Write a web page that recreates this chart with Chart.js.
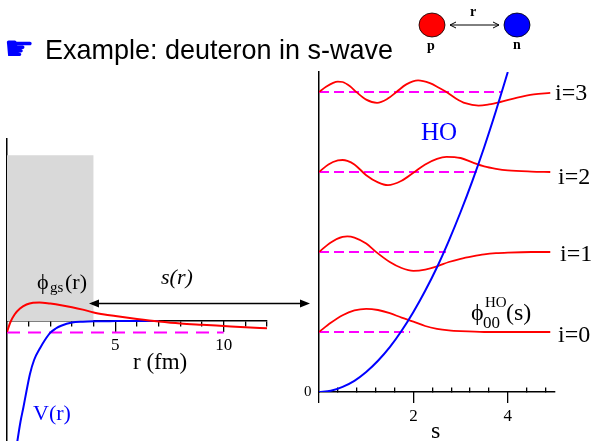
<!DOCTYPE html>
<html>
<head>
<meta charset="utf-8">
<script src="https://cdn.jsdelivr.net/npm/chart.js@4.4.1/dist/chart.umd.min.js"></script>
<style>
  body { margin: 0; background: #fff; }
  #wrap { position: relative; width: 594px; height: 441px; overflow: hidden; }
  canvas { position: absolute; }
  svg { position: absolute; left: 0; top: 0; }
  .t { position: absolute; white-space: nowrap; line-height: 1; font-family: "Liberation Serif", "DejaVu Serif", serif; color: #000; }
</style>
</head>
<body>
<div id="wrap">
  <canvas id="left" width="300" height="311" style="left:0;top:130px"></canvas>
  <canvas id="right" width="294" height="381" style="left:300px;top:60px"></canvas>
  <svg width="594" height="441">
    <ellipse cx="432" cy="25" rx="13" ry="12" fill="#ff0000" stroke="#000" stroke-width="0.8"/>
    <ellipse cx="517" cy="25" rx="13" ry="12" fill="#0000ff" stroke="#000" stroke-width="0.8"/>
    <line x1="450" y1="25" x2="499" y2="25" stroke="#000" stroke-width="1"/>
    <polyline points="456,22 450,25 456,28" fill="none" stroke="#000" stroke-width="1"/>
    <polyline points="493,22 499,25 493,28" fill="none" stroke="#000" stroke-width="1"/>
    <line x1="92" y1="303.5" x2="306" y2="303.5" stroke="#000" stroke-width="1.5"/>
    <polygon points="89,303.5 99,299.5 99,307.5" fill="#000"/>
    <polygon points="310,303.5 300,299.5 300,307.5" fill="#000"/>
  </svg>
</div>
<script>
// left panel: deuteron ground state and potential, r in fm
const phiR   = [0, 0.15, 0.35, 0.6, 0.9, 1.2, 1.5, 2.0, 2.5, 3.0, 3.5, 4.0, 4.5, 5.0, 5.5, 6.0, 7.0, 8.0, 9.0, 10.0, 11.0, 12.0];
const phiGs  = [-11, -1.5, 6.5, 12.5, 16.5, 18.3, 18.6, 17.4, 15.8, 13.8, 11.4, 8.6, 6.6, 5.0, 3.4, 2.0, -0.5, -2.5, -3.8, -5.0, -6.2, -7.3];
const potR   = [0.45, 0.62, 0.76, 0.9, 1.06, 1.25, 1.53, 1.75, 2.0, 2.25, 2.5, 3.0, 3.5, 4.0, 5.0, 6.0, 7.0];
const potV   = [-124, -101, -86, -70, -53, -39, -27, -19, -11.6, -7.5, -4.8, -1.6, -0.7, -0.3, -0.1, 0, 0];
const gsLevel = -11.6;
const gsLevelEnd = 10;
const boxR = [0, 4];
const boxTop = 165.7;

// right panel: HO basis states, s in units of b, energy in units of hbar*omega
const hoS = [0, 0.25, 0.5, 0.75, 1, 1.25, 1.5, 1.75, 2, 2.25, 2.5, 2.75, 3, 3.25, 3.5, 3.75, 4];
const hoV = [0, 0.03, 0.13, 0.28, 0.5, 0.78, 1.12, 1.53, 2.0, 2.53, 3.12, 3.78, 4.5, 5.28, 6.12, 7.03, 8.0];
const levelE   = [1.5, 3.5, 5.5, 7.5];
const levelEnd = [1.93, 2.69, 3.34, 3.87];
const s0 = [0, 0.25, 0.5, 0.75, 1.0, 1.25, 1.5, 1.75, 2.0, 2.25, 2.5, 2.75, 3.0, 3.5, 4.0, 4.9];
const y0 = [1.5, 1.73, 1.92, 2.04, 2.08, 2.05, 1.97, 1.86, 1.76, 1.65, 1.58, 1.54, 1.52, 1.5, 1.5, 1.5];
const s1 = [0, 0.25, 0.5, 0.6, 0.75, 1.0, 1.2, 1.5, 1.75, 2.0, 2.25, 2.5, 2.75, 3.0, 3.25, 3.5, 3.75, 4.0, 4.5, 4.9];
const y1 = [3.5, 3.74, 3.88, 3.89, 3.86, 3.71, 3.51, 3.25, 3.1, 3.03, 3.06, 3.14, 3.25, 3.33, 3.39, 3.44, 3.47, 3.485, 3.5, 3.5];
const s2 = [0, 0.2, 0.4, 0.5, 0.6, 0.75, 1.0, 1.25, 1.46, 1.75, 2.0, 2.25, 2.5, 2.7, 3.0, 3.25, 3.5, 3.75, 4.0, 4.5, 4.9];
const y2 = [5.5, 5.69, 5.79, 5.8, 5.78, 5.69, 5.42, 5.24, 5.17, 5.28, 5.48, 5.69, 5.83, 5.88, 5.85, 5.74, 5.64, 5.58, 5.54, 5.51, 5.5];
const s3 = [0, 0.15, 0.3, 0.4, 0.5, 0.65, 0.8, 1.0, 1.23, 1.45, 1.64, 1.85, 2.1, 2.35, 2.55, 2.7, 2.9, 3.1, 3.38, 3.6, 3.84, 4.2, 4.55, 4.9];
const y3 = [7.5, 7.63, 7.73, 7.76, 7.75, 7.65, 7.49, 7.31, 7.23, 7.33, 7.5, 7.69, 7.79, 7.72, 7.6, 7.5, 7.34, 7.22, 7.16, 7.19, 7.25, 7.36, 7.44, 7.48];

const RED = "#ff0000", BLUE = "#0000ff", MAG = "#ff00ff";
const tickFont = { family: "Liberation Serif", size: 17 };
const clear = "rgba(0,0,0,0)";

function pts(xs, ys) {
  return xs.map((x, i) => ({ x, y: ys[i] }));
}

function line(data, color, extra) {
  return Object.assign({
    data, borderColor: color, borderWidth: 2, pointRadius: 0,
    fill: false, cubicInterpolationMode: "monotone",
  }, extra || {});
}

const base = {
  responsive: false,
  animation: false,
  devicePixelRatio: 1,
  plugins: { legend: { display: false }, tooltip: { enabled: false } },
  events: [],
};

new Chart(document.getElementById("left"), {
  type: "line",
  data: {
    datasets: [
      line(pts(phiR, phiGs), RED),
      line(pts(potR, potV), BLUE),
      line(pts([0, gsLevelEnd], [gsLevel, gsLevel]), MAG, { borderDash: [13, 8] }),
      line(pts(boxR, [boxTop, boxTop]), clear, { borderWidth: 0, fill: "origin", backgroundColor: "#d9d9d9" }),
    ],
  },
  options: Object.assign({}, base, {
    layout: { padding: { left: 7, right: 33, top: 9, bottom: 0 } },
    scales: {
      x: {
        type: "linear", min: 0, max: 12, position: { y: 0 },
        ticks: { stepSize: 1, display: false, includeBounds: false },
        grid: { drawOnChartArea: false, tickLength: 5, lineWidth: 1.3,
          tickColor: (ctx) => (ctx.tick && ctx.tick.value % 5 === 0 ? clear : "#000") },
        border: { color: "#000", width: 1.5 },
      },
      x2: {
        type: "linear", axis: "x", min: 0, max: 12, position: { y: 0 },
        ticks: { stepSize: 5, includeBounds: false, font: tickFont, color: "#000",
          callback: (v) => (v === 0 ? "" : String(v)) },
        grid: { drawOnChartArea: false, tickLength: 11, lineWidth: 1.3,
          tickColor: (ctx) => (ctx.tick && ctx.tick.value === 0 ? clear : "#000") },
        border: { display: false },
      },
      y: {
        type: "linear", min: -120, max: 182, position: { x: 0 },
        ticks: { display: false },
        grid: { drawOnChartArea: false, drawTicks: false },
        border: { color: "#000", width: 1.5 },
      },
    },
  }),
});

const rightSets = [line(pts(hoS, hoV), BLUE)];
[[s0, y0], [s1, y1], [s2, y2], [s3, y3]].forEach(([s, y]) => rightSets.push(line(pts(s, y), RED, { borderWidth: 1.8 })));
levelE.forEach((e, i) => rightSets.push(line(pts([0, levelEnd[i]], [e, e]), MAG, { borderDash: [10, 5], borderWidth: 1.8 })));

new Chart(document.getElementById("right"), {
  type: "line",
  data: { datasets: rightSets },
  options: Object.assign({}, base, {
    layout: { padding: { left: 19, right: 39, top: 10, bottom: 49 } },
    scales: {
      x: {
        type: "linear", min: 0, max: 5, position: { y: 0 },
        ticks: { stepSize: 0.4, display: false, includeBounds: false },
        grid: { drawOnChartArea: false, tickLength: -5, lineWidth: 1.3,
          tickColor: (ctx) => {
            const v = ctx.tick ? ctx.tick.value / 2 : 0;
            return Math.abs(v - Math.round(v)) < 1e-6 ? clear : "#000";
          } },
        border: { color: "#000", width: 1.5 },
      },
      x2: {
        type: "linear", axis: "x", min: 0, max: 5, position: { y: 0 },
        ticks: { stepSize: 2, includeBounds: false, font: tickFont, color: "#000",
          callback: (v) => (v === 0 ? "" : String(v)) },
        grid: { drawOnChartArea: false, tickLength: 11, lineWidth: 1.3, tickColor: "#000" },
        border: { display: false },
      },
      y: {
        type: "linear", min: 0, max: 8, position: { x: 0 },
        ticks: { stepSize: 8, includeBounds: false, font: { family: "Liberation Serif", size: 15 }, color: "#000",
          callback: (v) => (v === 0 ? "0\u2002" : "") },
        grid: { drawOnChartArea: false, drawTicks: false },
        border: { color: "#000", width: 1.5 },
      },
    },
  }),
});

// text labels, placed by left edge and baseline
const wrap = document.getElementById("wrap");
function put(text, x, baseline, size, opts) {
  const o = opts || {};
  const el = document.createElement("div");
  el.className = "t";
  el.textContent = text;
  el.style.fontSize = size + "px";
  if (o.family) el.style.fontFamily = o.family;
  if (o.italic) el.style.fontStyle = "italic";
  if (o.bold) el.style.fontWeight = "bold";
  if (o.color) el.style.color = o.color;
  el.style.left = x + "px";
  el.style.top = (baseline - (o.ratio || 0.8375) * size) + "px";
  wrap.appendChild(el);
  if (o.width) {
    const w = el.getBoundingClientRect().width;
    el.style.transformOrigin = "0 0";
    el.style.transform = "scaleX(" + (o.width / w) + ")";
  }
  return el;
}

put("\u261B", 4, 60, 34, { family: "DejaVu Sans", color: BLUE, ratio: 0.846 });
put("Example: deuteron in s-wave", 45, 60, 28, { family: "Liberation Sans", ratio: 0.8465, width: 348 });
put("r", 470, 17, 14, { bold: true });
put("p", 427, 51, 14, { bold: true });
put("n", 513, 50, 14, { bold: true });

put("\u03D5", 37, 289, 22);
put("gs", 50, 293, 15);
put("(r)", 65, 289, 22);
put("s(r)", 161, 284, 22, { italic: true });
put("r (fm)", 133, 369, 23);
put("V(r)", 33, 420, 22, { color: BLUE });

put("HO", 421, 140, 25, { color: BLUE });
put("i=3", 555, 100, 24);
put("i=2", 558, 184, 24);
put("i=1", 560, 261, 24);
put("i=0", 558, 342, 24);
put("\u03D5", 471, 320, 24);
put("00", 483, 328, 17);
put("HO", 485, 308, 15);
put("(s)", 506, 320, 24);
put("s", 431, 438, 24);
</script>
</body>
</html>
